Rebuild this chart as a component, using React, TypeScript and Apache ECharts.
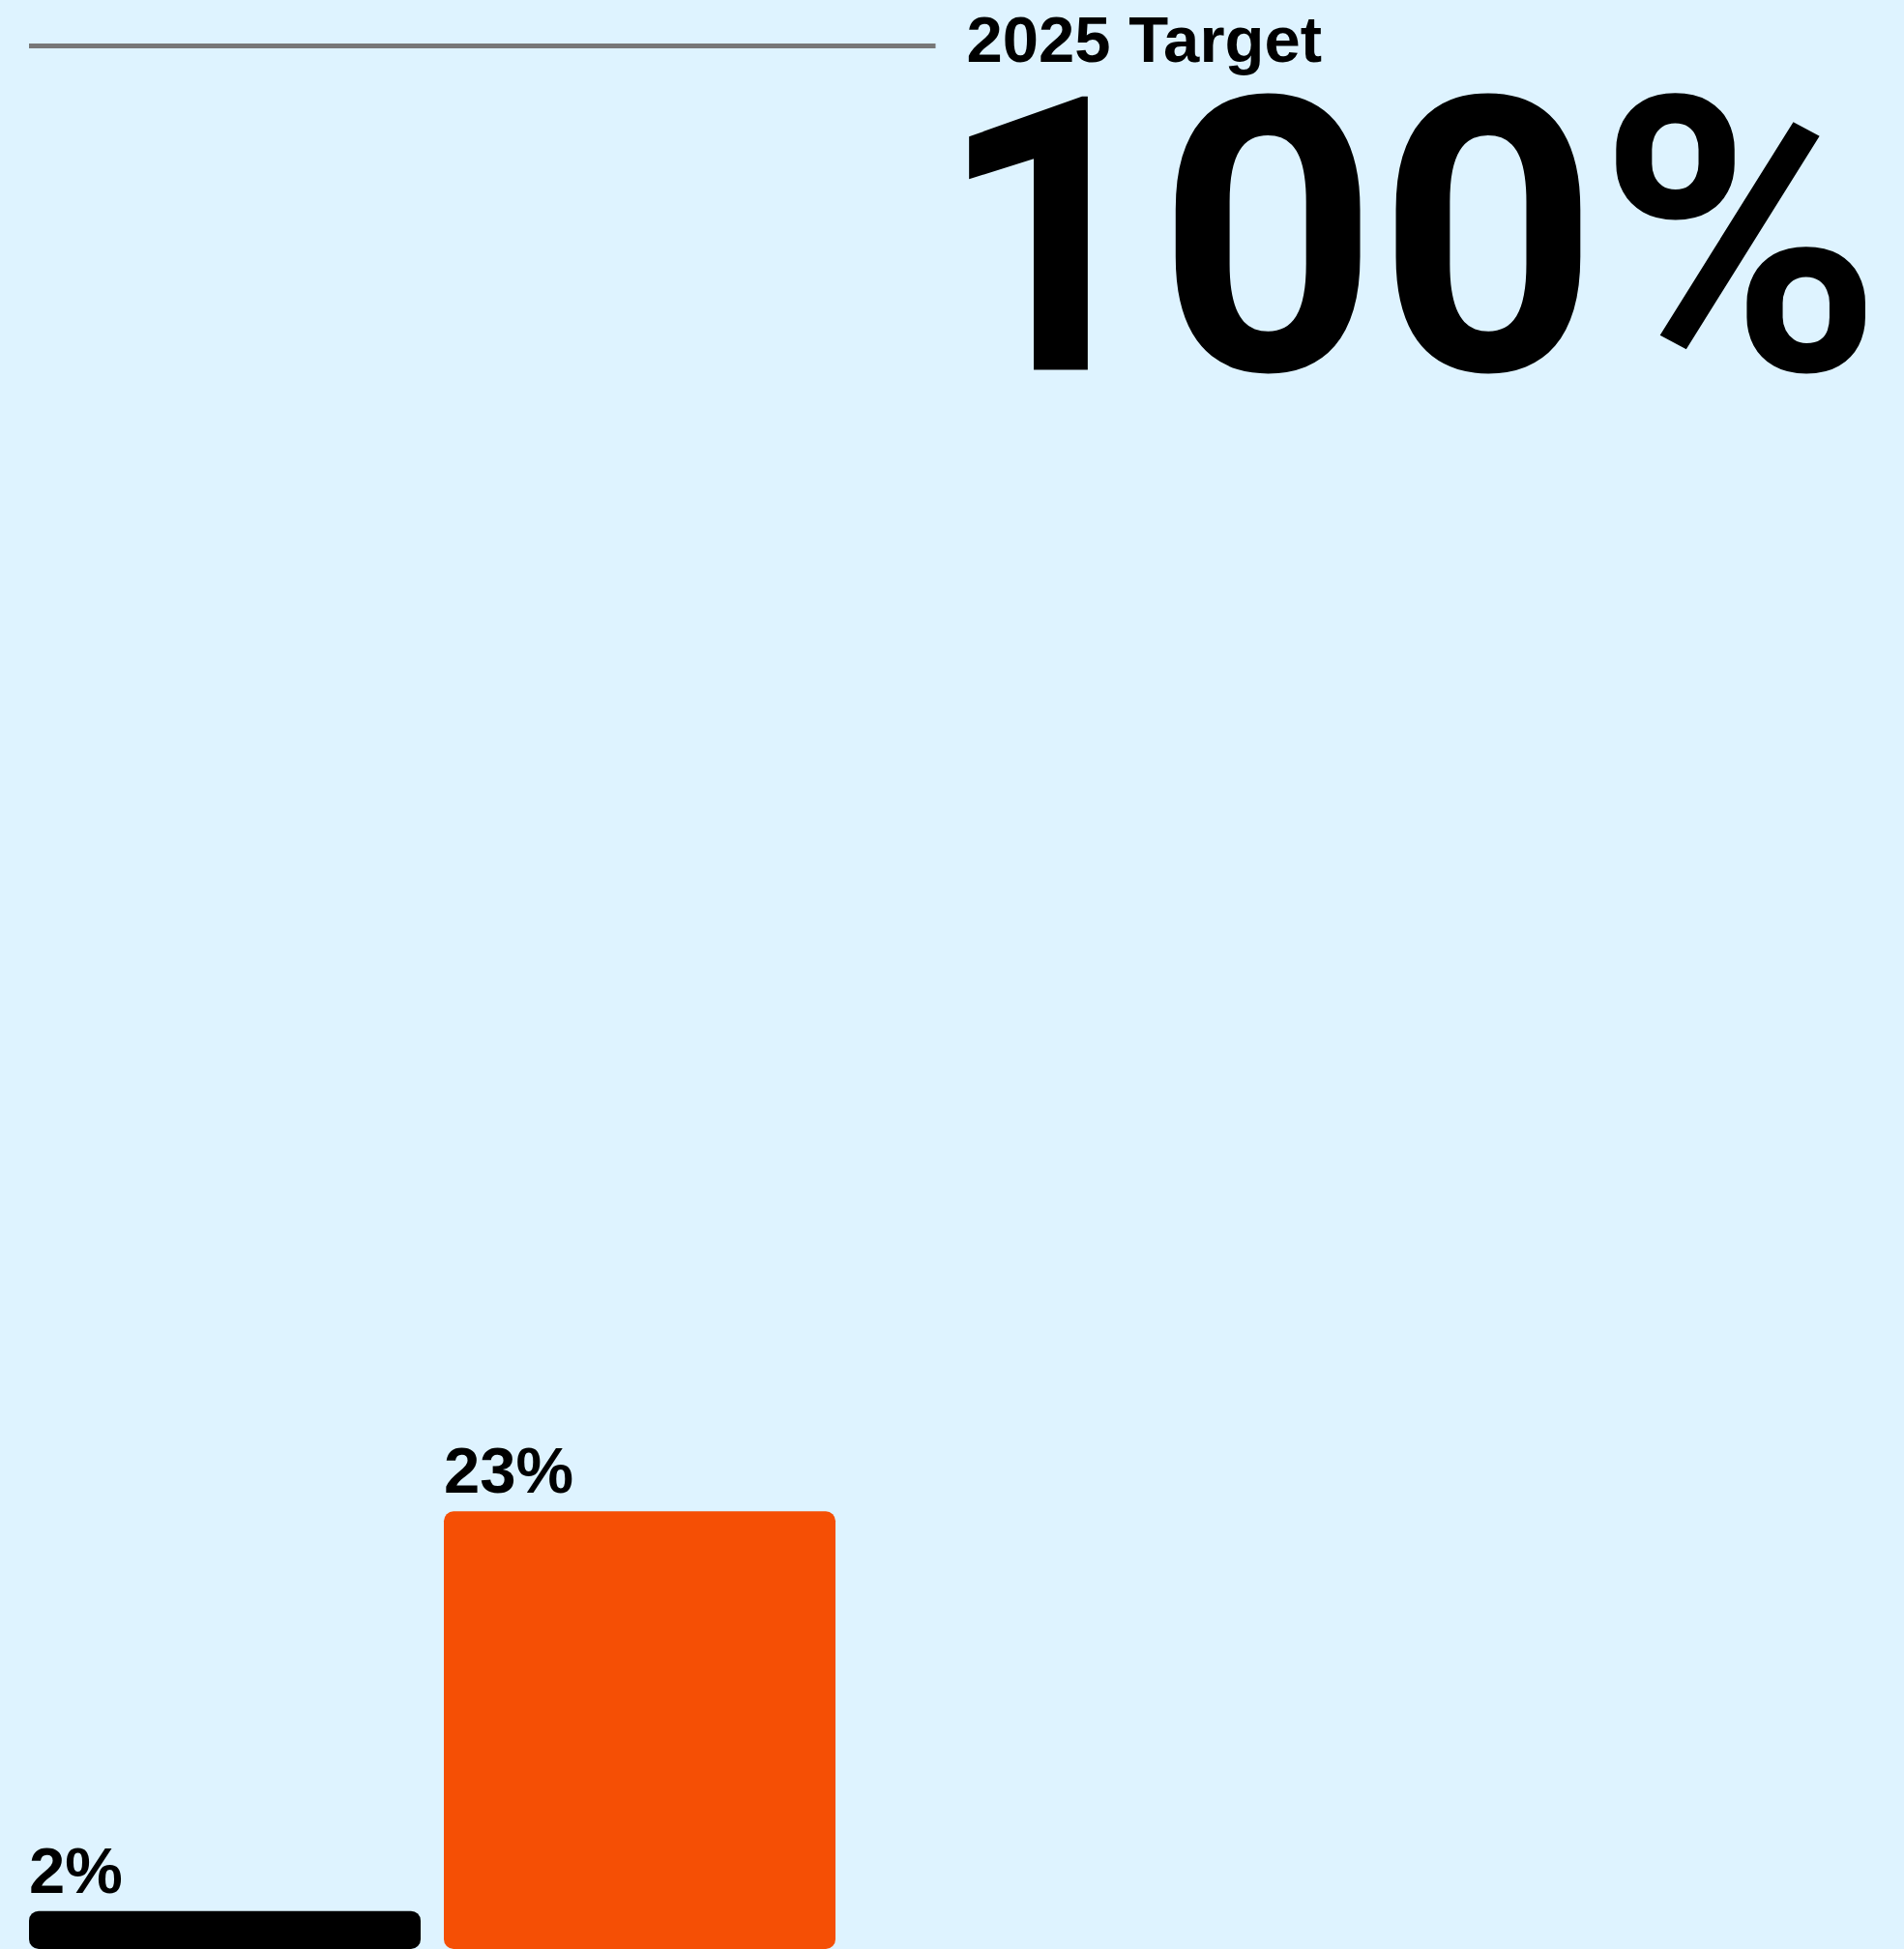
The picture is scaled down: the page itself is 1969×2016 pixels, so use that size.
import React, { useEffect, useRef } from "react";
import * as echarts from "echarts";

const categories = ["Current", "Projected"];
const values = [2, 23];
const barColors = ["#000000", "#F54F05"];
const targetValue = 100;
const targetName = "2025 Target";

export default function App() {
  const ref = useRef<HTMLDivElement>(null);
  useEffect(() => {
    if (!ref.current) return;
    const chart = echarts.init(ref.current, null, { renderer: "svg" });
    const font = "'Liberation Sans', Arial, Helvetica, sans-serif";
    const bigFont = "Roboto, 'Liberation Sans', Arial, sans-serif";
    chart.setOption({
      animation: false,
      backgroundColor: "#DEF3FF",
      grid: { left: 18, top: 47.5, width: 858, bottom: 0, containLabel: false },
      xAxis: {
        type: "category",
        data: categories,
        show: false,
        boundaryGap: true,
      },
      yAxis: {
        type: "value",
        min: 0,
        max: 100,
        show: false,
        splitLine: { show: false },
      },
      series: [
        {
          type: "bar",
          barWidth: 405,
          data: values.map((v, i) => ({
            value: v,
            itemStyle: { color: barColors[i], borderRadius: 10 },
          })),
          label: {
            show: true,
            position: [0, -9],
            align: "left",
            verticalAlign: "bottom",
            formatter: "{c}%",
            fontFamily: font,
            fontWeight: "bold",
            fontSize: 67,
            lineHeight: 67,
            color: "#000",
          },
          markLine: {
            silent: true,
            symbol: ["none", "none"],
            lineStyle: { color: "#777777", width: 5, type: "solid" },
            label: {
              show: true,
              position: "end",
              distance: 2,
              align: "left",
              verticalAlign: "middle",
              formatter: () => `{a|${targetName}}\n{b|${targetValue}%}`,
              rich: {
                a: {
                  fontFamily: font,
                  fontWeight: "bold",
                  fontSize: 67,
                  lineHeight: 399,
                  color: "#000",
                  padding: [0, 0, 0, 30],
                },
                b: {
                  fontFamily: bigFont,
                  fontWeight: "bold",
                  fontSize: 397,
                  lineHeight: 15,
                  color: "#000",
                },
              },
            },
            data: [
              [
                { name: targetName, yAxis: targetValue, x: 30 },
                { name: targetName, yAxis: targetValue, x: 967.5 },
              ],
            ],
          },
        },
      ],
    });
    return () => chart.dispose();
  }, []);
  return (
    <div
      ref={ref}
      style={{ position: "fixed", left: 0, top: 0, width: 1969, height: 2016 }}
    />
  );
}
